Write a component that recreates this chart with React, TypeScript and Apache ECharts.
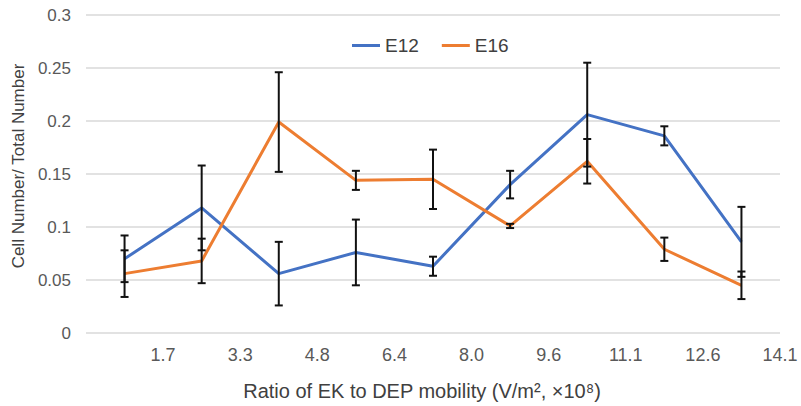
import React, { useEffect, useRef } from "react";
import * as echarts from "echarts";

const tickLabels = ["", "1.7", "3.3", "4.8", "6.4", "8.0", "9.6", "11.1", "12.6", "14.1"];
const seriesNames = ["E12", "E16"];
const e12Values = [0.07, 0.118, 0.056, 0.076, 0.063, 0.14, 0.206, 0.186, 0.086];
const e12Err = [0.022, 0.04, 0.03, 0.031, 0.009, 0.013, 0.049, 0.009, 0.033];
const e16Values = [0.056, 0.068, 0.199, 0.144, 0.145, 0.101, 0.162, 0.079, 0.045];
const e16Err = [0.022, 0.021, 0.047, 0.009, 0.028, 0.002, 0.021, 0.011, 0.013];
const colors = ["#4472C4", "#ED7D31"];

const FONT = "'Liberation Sans', Arial, sans-serif";

export default function App() {
  const ref = useRef<HTMLDivElement>(null);
  useEffect(() => {
    if (!ref.current) return;
    const chart = echarts.init(ref.current, undefined, { renderer: "svg" });
    const toPts = (vals: number[]) => vals.map((v, i) => [i + 0.5, v]);
    const toErr = (vals: number[], errs: number[]) =>
      vals.map((v, i) => [i + 0.5, v - errs[i], v + errs[i]]);
    const renderErr = (params: any, api: any) => {
      const x = api.value(0);
      const lo = api.coord([x, api.value(1)]);
      const hi = api.coord([x, api.value(2)]);
      const hw = 4;
      const st = { stroke: "#111", lineWidth: 2 };
      return {
        type: "group",
        children: [
          { type: "line", shape: { x1: lo[0], y1: lo[1], x2: hi[0], y2: hi[1] }, style: st },
          { type: "line", shape: { x1: lo[0] - hw, y1: lo[1], x2: lo[0] + hw, y2: lo[1] }, style: st },
          { type: "line", shape: { x1: hi[0] - hw, y1: hi[1], x2: hi[0] + hw, y2: hi[1] }, style: st },
        ],
      };
    };
    chart.setOption({
      animation: false,
      textStyle: { fontFamily: FONT },
      legend: {
        data: seriesNames.map((n) => ({ name: n, icon: "rect" })),
        top: 31,
        left: 347,
        itemWidth: 28,
        itemHeight: 3,
        itemGap: 23,
        textStyle: { fontSize: 19, color: "#404040", fontFamily: FONT },
      },
      grid: { left: 86, right: 21, top: 15, bottom: 73 },
      xAxis: {
        type: "value",
        min: 0,
        max: 9,
        interval: 1,
        axisLine: { show: false },
        axisTick: { show: false },
        splitLine: { show: false },
        axisLabel: {
          fontSize: 18,
          color: "#595959",
          margin: 13,
          fontFamily: FONT,
          formatter: (v: number) => tickLabels[Math.round(v)] ?? "",
        },
        name: "Ratio of EK to DEP mobility (V/m², ×10⁸)",
        nameLocation: "middle",
        nameGap: 48,
        nameTextStyle: { fontSize: 20, color: "#404040", fontFamily: FONT, padding: [0, 22, 0, 0] },
      },
      yAxis: {
        type: "value",
        min: 0,
        max: 0.3,
        interval: 0.05,
        axisLine: { show: false },
        axisTick: { show: false },
        splitLine: { lineStyle: { color: "#D9D9D9", width: 1.5 } },
        axisLabel: {
          fontSize: 17,
          color: "#595959",
          margin: 15,
          fontFamily: FONT,
          formatter: (v: number) => String(Number(v.toFixed(2))),
        },
        name: "Cell Number/ Total Number",
        nameLocation: "middle",
        nameGap: 59,
        nameTextStyle: { fontSize: 17, color: "#404040", fontFamily: FONT, padding: [0, 0, 0, 16] },
      },
      series: [
        {
          name: seriesNames[0],
          type: "line",
          data: toPts(e12Values),
          symbol: "none",
          lineStyle: { color: colors[0], width: 3 },
          itemStyle: { color: colors[0] },
          z: 2,
        },
        {
          name: seriesNames[1],
          type: "line",
          data: toPts(e16Values),
          symbol: "none",
          lineStyle: { color: colors[1], width: 3 },
          itemStyle: { color: colors[1] },
          z: 2,
        },
        {
          type: "custom",
          data: toErr(e12Values, e12Err),
          renderItem: renderErr,
          z: 5,
          encode: { x: 0, y: [1, 2] },
        },
        {
          type: "custom",
          data: toErr(e16Values, e16Err),
          renderItem: renderErr,
          z: 5,
          encode: { x: 0, y: [1, 2] },
        },
      ],
    });
    return () => chart.dispose();
  }, []);
  return (
    <div
      ref={ref}
      style={{ position: "fixed", left: 0, top: 0, width: 801, height: 406, background: "#fff" }}
    />
  );
}
